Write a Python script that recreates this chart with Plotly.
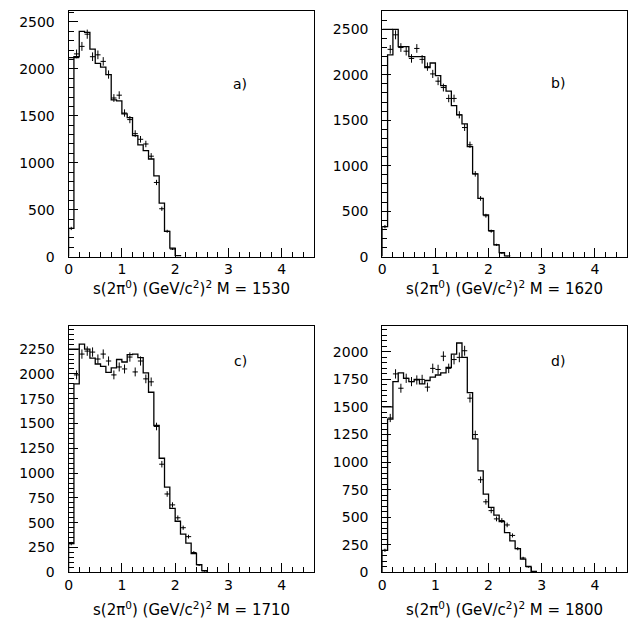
import numpy as np
import plotly.graph_objects as go

# ---------------- data ----------------
bin_width = 0.1
masses = [1530, 1620, 1710, 1800]
panel_tags = ["a)", "b)", "c)", "d)"]

hist_a = [300, 2130, 2400, 2390, 2210, 2060, 2020, 1940, 1670, 1660, 1520, 1480,
          1290, 1190, 1130, 1040, 860, 570, 270, 90, 10]
data_a = [300, 2160, 2240, 2370, 2130, 2150, 2080, 1940, 1690, 1720, 1530, 1460,
          1310, 1250, 1200, 1070, 790, 510, 270, 80, 10]

hist_b = [330, 2220, 2500, 2310, 2310, 2200, 2200, 2200, 2080, 2130, 1990, 1880,
          1820, 1660, 1560, 1460, 1210, 910, 640, 460, 285, 130, 45, 5]
data_b = [330, 2280, 2440, 2300, 2260, 2180, 2290, 2170, 2090, 2010, 1930, 1860,
          1740, 1740, 1560, 1420, 1230, 910, 640, 450, 280, 130, 40, 5]

hist_c = [290, 1900, 2300, 2250, 2160, 2100, 2075, 2015, 2060, 2145, 2120, 2195,
          2200, 2165, 2010, 1815, 1480, 1150, 860, 645, 515, 385, 295, 190, 78, 17]
data_c = [290, 1990, 2200, 2230, 2220, 2150, 2200, 2130, 1990, 2070, 2050, 2170,
          2020, 2130, 1950, 1920, 1470, 1090, 790, 680, 550, 450, 360, 200, 75, 15]

hist_d = [200, 1390, 1730, 1810, 1760, 1730, 1750, 1710, 1740, 1770, 1790, 1810,
          1860, 1980, 2080, 1950, 1630, 1210, 920, 710, 590, 520, 460, 360, 285,
          215, 120, 55, 8]
data_d = [200, 1400, 1800, 1670, 1760, 1730, 1745, 1750, 1680, 1850, 1840, 1960,
          1850, 1930, 1950, 2010, 1580, 1250, 840, 640, 560, 485, 470, 430, 335,
          215, 130, 50, 8]

first_edge_levels = [2120, 2500, 2250, 1500]

x_max = 4.6
y_max = [2620, 2705, 2478, 2230]
y_major = [500, 500, 250, 250]
y_minor = [100, 100, 50, 50]

hists = [hist_a, hist_b, hist_c, hist_d]
datas = [data_a, data_b, data_c, data_d]

# ---------------- layout geometry ----------------
W, H = 629, 644
VS = 1.015  # small vertical correction
x_doms = [[65 / W, 311.7 / W], [380.7 / W, 626.7 / W]]
y_doms = [[1 - 256 * VS / H, 1 - 10.7 * VS / H],
          [1 - 571 * VS / H, 1 - 325.7 * VS / H]]

FONT = "DejaVu Sans"
TICK_SIZE = 14
TITLE_SIZE = 15
fig = go.Figure()
layout = dict(width=W, height=H, margin=dict(l=0, r=0, t=0, b=0),
              paper_bgcolor="white", plot_bgcolor="white", showlegend=False,
              font=dict(family=FONT, size=TICK_SIZE, color="black"))
annotations = []

for i in range(4):
    row, col = divmod(i, 2)
    xa = "x" if i == 0 else f"x{i+1}"
    ya = "y" if i == 0 else f"y{i+1}"
    h = hists[i]
    d = datas[i]
    n = len(h)
    edges = [k * bin_width for k in range(n + 1)]
    centers = [(edges[k] + edges[k + 1]) / 2 for k in range(n)]

    # step histogram
    xs = [edges[0]] + edges[:n] + [edges[n]]
    ys = [0] + list(h) + [0]
    fig.add_trace(go.Scatter(x=xs, y=ys, mode="lines", line_shape="hv",
                             line=dict(color="black", width=1.3),
                             xaxis=xa, yaxis=ya, hoverinfo="skip"))
    # extra top segment over first two bins
    fig.add_trace(go.Scatter(x=[edges[0], edges[2]],
                             y=[first_edge_levels[i], first_edge_levels[i]],
                             mode="lines", line=dict(color="black", width=1.3),
                             xaxis=xa, yaxis=ya, hoverinfo="skip"))
    # data crosses
    fig.add_trace(go.Scatter(x=centers, y=d, mode="markers",
                             marker=dict(size=1, color="black"),
                             error_x=dict(type="constant", value=bin_width / 2,
                                          width=0, thickness=1, color="black"),
                             error_y=dict(type="data", array=list(np.sqrt(d)),
                                          width=0, thickness=1, color="black"),
                             xaxis=xa, yaxis=ya))

    key_x = "xaxis" if i == 0 else f"xaxis{i+1}"
    key_y = "yaxis" if i == 0 else f"yaxis{i+1}"
    layout[key_x] = dict(domain=x_doms[col], anchor=ya, range=[0, x_max],
                         tick0=0, dtick=1, ticks="inside", ticklen=9,
                         tickcolor="black", tickwidth=1,
                         minor=dict(dtick=0.2, ticks="inside", ticklen=5,
                                    tickcolor="black", tickwidth=1),
                         showline=True, linecolor="black", linewidth=1,
                         mirror=True, showgrid=False, zeroline=False,
                         tickfont=dict(family=FONT, size=TICK_SIZE),
                         ticklabelstandoff=0)
    layout[key_y] = dict(domain=y_doms[row], anchor=xa, range=[0, y_max[i]],
                         tick0=0, dtick=y_major[i], ticks="inside", ticklen=9,
                         tickcolor="black", tickwidth=1,
                         minor=dict(dtick=y_minor[i], ticks="inside", ticklen=5,
                                    tickcolor="black", tickwidth=1),
                         showline=True, linecolor="black", linewidth=1,
                         mirror=True, showgrid=False, zeroline=False,
                         tickfont=dict(family=FONT, size=TICK_SIZE),
                         ticklabelstandoff=10)

    # panel tag
    tag_pos = [(0.737, 0.742), (0.754, 0.747), (0.737, 0.90), (0.754, 0.90)][i]
    annotations.append(dict(text=panel_tags[i], xref=f"{xa} domain",
                            yref=f"{ya} domain", x=tag_pos[0], y=tag_pos[1],
                            showarrow=False, font=dict(family=FONT, size=TICK_SIZE)))
    # x title
    title_y = [287, 287, 608, 608][i] * VS
    annotations.append(dict(
        text=f"s(2π<sup>0</sup>) (GeV/c<sup>2</sup>)<sup>2</sup> M = {masses[i]}",
        xref="paper", yref="paper",
        x=(x_doms[col][0] + x_doms[col][1]) / 2, y=1 - title_y / H,
        xanchor="center", yanchor="middle", showarrow=False,
        font=dict(family=FONT, size=TITLE_SIZE)))

layout["annotations"] = annotations
fig.update_layout(**layout)
fig.write_html("out.html",
               config={"displayModeBar": False},
               post_script="document.body.style.margin='0px';"
                           "document.body.style.overflow='hidden';")
